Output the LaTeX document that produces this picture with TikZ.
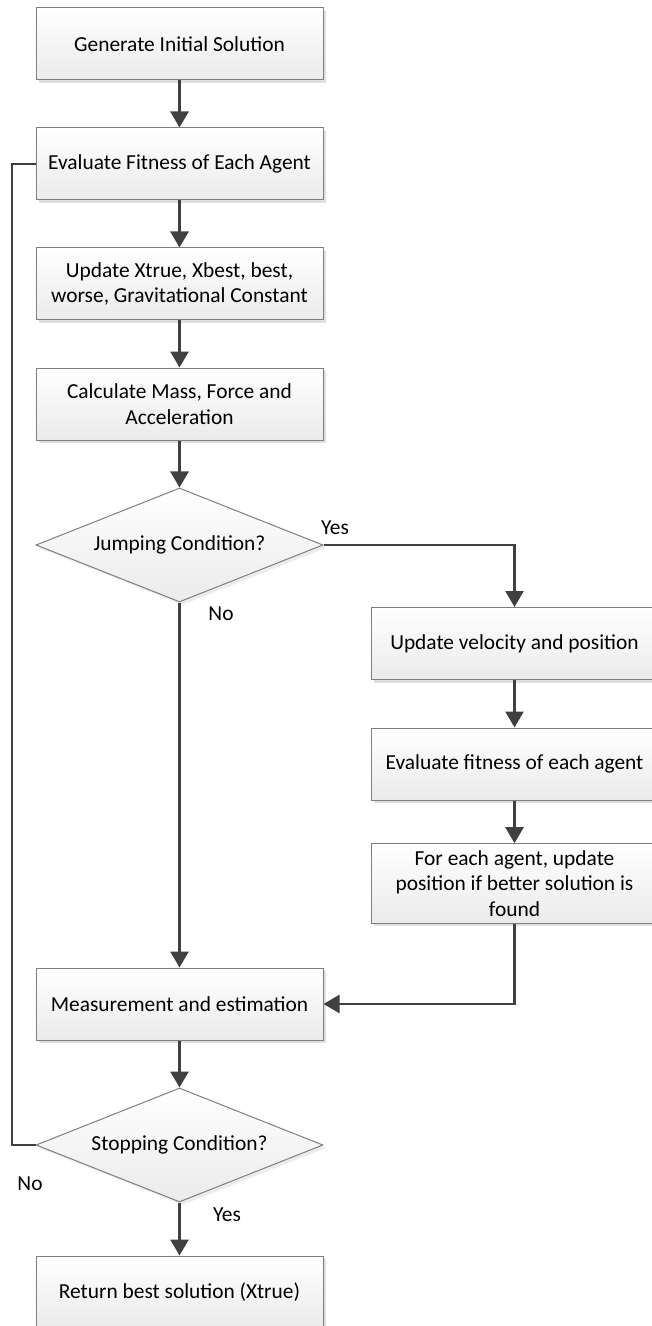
\documentclass[tikz,border=0pt]{standalone}
\usepackage{fontspec}
\setmainfont{Carlito}
\usetikzlibrary{shapes.geometric,arrows.meta,shadows}

\definecolor{edgegray}{HTML}{7F7F7F}
\definecolor{linegray}{HTML}{404040}

\tikzset{
  procbox/.style={draw=edgegray, line width=0.5pt, rectangle,
    top color=white, bottom color=black!8,
    minimum width=143.5pt, minimum height=36pt, align=center,
    font=\fontsize{10.7}{12.8}\selectfont,
    drop shadow={shadow xshift=1.5pt, shadow yshift=-1.5pt, fill=black!18, opacity=0.7}},
  decision/.style={draw=edgegray, line width=0.5pt, diamond, inner sep=0pt,
    top color=white, bottom color=black!8, aspect=2.5,
    minimum width=143.5pt, minimum height=57pt,
    font=\fontsize{10.7}{12.8}\selectfont,
    drop shadow={shadow xshift=1.5pt, shadow yshift=-1.5pt, fill=black!12, opacity=0.6}},
  arr/.style={draw=linegray, line width=1.3pt, -{Triangle[width=9pt,length=8pt]}},
  link/.style={draw=linegray, line width=1.3pt},
  lbl/.style={font=\fontsize{10.7}{12.8}\selectfont, inner sep=0pt}
}

\begin{document}
\begin{tikzpicture}[x=0.5pt, y=-0.5pt]
    \useasboundingbox (0,0) rectangle (652,1326);

    % main column
    \node[procbox] (gen)   at (179.5, 44)   {Generate Initial Solution};
    \node[procbox] (evalf) at (179.5, 164)  {Evaluate Fitness of Each Agent};
    \node[procbox] (upd)   at (179.5, 284)  {Update Xtrue, Xbest, best,\\worse, Gravitational Constant};
    \node[procbox] (calc)  at (179.5, 404)  {Calculate Mass, Force and\\Acceleration};
    \node[decision] (jump) at (179.5, 545)  {Jumping Condition?};

    % jumping branch
    \node[procbox] (vel)     at (514.5, 643.5) {Update velocity and position};
    \node[procbox] (evalr)   at (514.5, 764)   {Evaluate fitness of each agent};
    \node[procbox] (foreach) at (514.5, 883.5) {For each agent, update\\position if better solution is\\found};

    % bottom part
    \node[procbox] (meas)  at (179.5, 1004) {Measurement and estimation};
    \node[decision] (stop) at (179.5, 1145) {Stopping Condition?};
    \node[procbox] (ret)   at (179.5, 1292) {Return best solution (Xtrue)};

    % arrows
    \draw[arr] (gen) -- (evalf);
    \draw[arr] (evalf) -- (upd);
    \draw[arr] (upd) -- (calc);
    \draw[arr] (calc) -- (jump);
    \draw[arr] (jump.east) -| (vel.north);
    \draw[arr] (vel) -- (evalr);
    \draw[arr] (evalr) -- (foreach);
    \draw[arr] (foreach.south) |- (meas.east);
    \draw[arr] (jump.south) -- (meas.north);
    \draw[arr] (meas) -- (stop);
    \draw[arr] (stop.south) -- (ret.north);

    % loop back
    \coordinate (loopbot) at (12, 1145);
    \coordinate (looptop) at (12, 164);
    \draw[link] (stop.west) -- (loopbot) -- (looptop) -- (evalf.west);

    % labels
    \node[lbl] (yes1) at (335, 528)  {Yes};
    \node[lbl] (no1)  at (221, 614)  {No};
    \node[lbl] (no2)  at (30, 1184)  {No};
    \node[lbl] (yes2) at (227, 1215) {Yes};
\end{tikzpicture}
\end{document}
